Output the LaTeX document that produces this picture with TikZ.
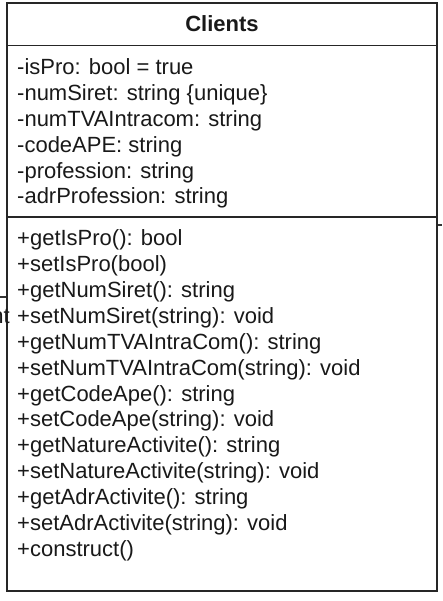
\documentclass[tikz,border=0pt]{standalone}
\usepackage{fontspec}
\setmainfont{Liberation Sans}
\begin{document}
\begin{tikzpicture}[x=1pt,y=-1pt,
  umlline/.style={draw=black!85,line width=1.6pt},
  member/.style={anchor=base west,inner sep=0pt,font=\fontsize{22}{26}\selectfont,text=black!90},
  titletext/.style={anchor=base,inner sep=0pt,font=\fontsize{22}{26}\selectfont\bfseries,text=black!90},
  fragline/.style={draw=black!80,line width=1.2pt}]
\useasboundingbox (0,0) rectangle (442,601);
\fill[white] (0,0) rectangle (442,601);
% class box
\coordinate (tl) at (7,3);
\coordinate (br) at (437,591);
\draw[umlline,fill=white] (tl) rectangle (br);
\coordinate (h1l) at (7,45.5);
\coordinate (h1r) at (437,45.5);
\coordinate (h2l) at (7,217);
\coordinate (h2r) at (437,217);
\draw[umlline] (h1l) -- (h1r);
\draw[umlline] (h2l) -- (h2r);
\node[titletext] (title) at (222,31.5) {Clients};
% attributes
\foreach \t [count=\i from 0] in {%
  {-isPro: bool = true},
  {-numSiret: string \{unique\}},
  {-numTVAIntracom: string},
  {-codeAPE: string},
  {-profession: string},
  {-adrProfession: string}}
  \node[member] (a\i) at (17,75+25.8*\i) {\t};
% methods
\foreach \t [count=\i from 0] in {%
  {+getIsPro(): bool},
  {+setIsPro(bool)},
  {+getNumSiret(): string},
  {+setNumSiret(string): void},
  {+getNumTVAIntraCom(): string},
  {+setNumTVAIntraCom(string): void},
  {+getCodeApe(): string},
  {+setCodeApe(string): void},
  {+getNatureActivite(): string},
  {+setNatureActivite(string): void},
  {+getAdrActivite(): string},
  {+setAdrActivite(string): void},
  {+construct()}}
  \node[member] (m\i) at (17,246+25.85*\i) {\t};
% fragments of neighbouring elements at the edges
\coordinate (fl1) at (0,297);
\coordinate (fl2) at (6,297);
\draw[fragline] (fl1) -- (fl2);
\coordinate (fr1) at (438,225);
\coordinate (fr2) at (442,225);
\draw[fragline] (fr1) -- (fr2);
\node[anchor=base east,inner sep=0pt,font=\fontsize{22}{26}\selectfont,text=black!90] (frag) at (10,323.5) {nt};
\end{tikzpicture}
\end{document}
